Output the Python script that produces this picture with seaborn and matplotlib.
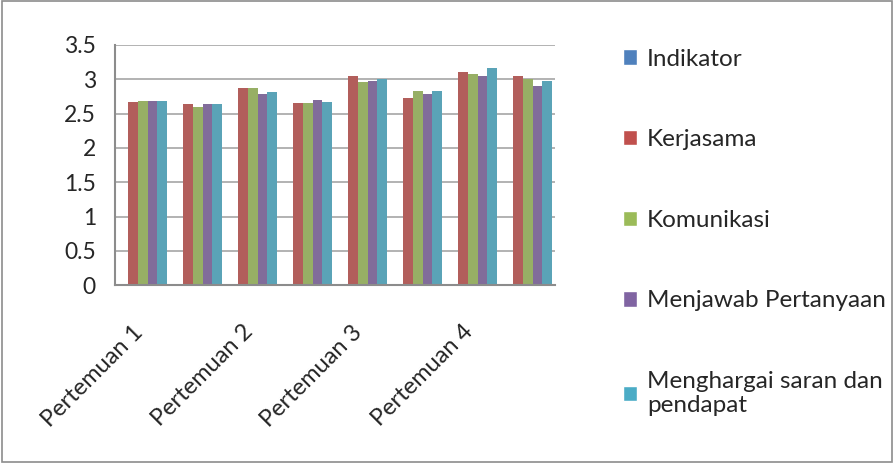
import pandas as pd
import numpy as np
import matplotlib.pyplot as plt
import seaborn as sns
from matplotlib.patches import Patch, Rectangle

# categories (8 clusters, Excel shows every other label)
categories = ["P1a", "P1b", "P2a", "P2b", "P3a", "P3b", "P4a", "P4b"]
tick_labels = ["Pertemuan 1", "", "Pertemuan 2", "", "Pertemuan 3", "", "Pertemuan 4", ""]
series = ["Indikator", "Kerjasama", "Komunikasi", "Menjawab Pertanyaan",
          "Menghargai saran dan pendapat"]

indikator = [0, 0, 0, 0, 0, 0, 0, 0]
kerjasama = [2.67, 2.64, 2.87, 2.65, 3.05, 2.73, 3.11, 3.04]
komunikasi = [2.68, 2.59, 2.87, 2.66, 2.96, 2.83, 3.08, 3.01]
menjawab = [2.69, 2.64, 2.78, 2.70, 2.98, 2.79, 3.04, 2.90]
menghargai = [2.68, 2.64, 2.81, 2.67, 3.01, 2.83, 3.16, 2.98]

colors = ["#4F81BD", "#C0504D", "#9BBB59", "#8064A2", "#4BACC6"]

df = pd.DataFrame({"Kategori": categories, series[0]: indikator, series[1]: kerjasama,
                   series[2]: komunikasi, series[3]: menjawab, series[4]: menghargai})
df = df.melt(id_vars="Kategori", var_name="Seri", value_name="Nilai")

sns.set_style("white")
plt.rcParams["font.family"] = ["Lato", "DejaVu Sans"]

fig = plt.figure(figsize=(8.94, 4.63), dpi=100)
ax = fig.add_axes([0.129, 0.384, 0.492, 0.519])
sns.barplot(data=df, x="Kategori", y="Nilai", hue="Seri", palette=colors,
            width=0.88, ax=ax, legend=False, edgecolor="none")

ax.set_ylim(0, 3.5)
ax.set_yticks(np.arange(0, 3.51, 0.5))
ax.set_yticklabels(["0", "0.5", "1", "1.5", "2", "2.5", "3", "3.5"], fontsize=16.5)
ax.yaxis.grid(True, color="#A6A6A6", lw=1.2)
ax.set_axisbelow(True)
ax.set_xlim(-0.5, 7.5)
ax.set_xticks(np.arange(-0.5, 7.6, 1))
ax.set_xticklabels([])
ax.set_xticks(np.arange(8) - 0.2, minor=True)
ax.set_xticklabels(tick_labels, minor=True, rotation=45, ha="right",
                   rotation_mode="anchor", fontsize=17)
ax.tick_params(axis="x", which="minor", length=0, pad=26)
ax.tick_params(axis="x", which="major", length=6, color="#8C8C8C", direction="out")
ax.tick_params(axis="y", length=6, color="#8C8C8C", direction="out", pad=8)
ax.set_xlabel("")
ax.set_ylabel("")
for s in ["top", "right"]:
    ax.spines[s].set_visible(False)
for s in ["left", "bottom"]:
    ax.spines[s].set_color("#8C8C8C")
    ax.spines[s].set_linewidth(1.5)

handles = [Patch(facecolor=c) for c in colors]
labels = ["Indikator", "Kerjasama", "Komunikasi", "Menjawab Pertanyaan",
          "Menghargai saran dan\npendapat"]
fig.legend(handles, labels, loc="upper left", bbox_to_anchor=(0.672, 0.942),
           frameon=False, fontsize=17.5, labelspacing=2.45, handlelength=0.6,
           handleheight=0.6, handletextpad=0.4)

fig.patches.append(Rectangle((0.002, 0.003), 0.996, 0.994, transform=fig.transFigure,
                             fill=False, edgecolor="#8C8C8C", lw=1.2))

plt.savefig("out.png", dpi=100)
